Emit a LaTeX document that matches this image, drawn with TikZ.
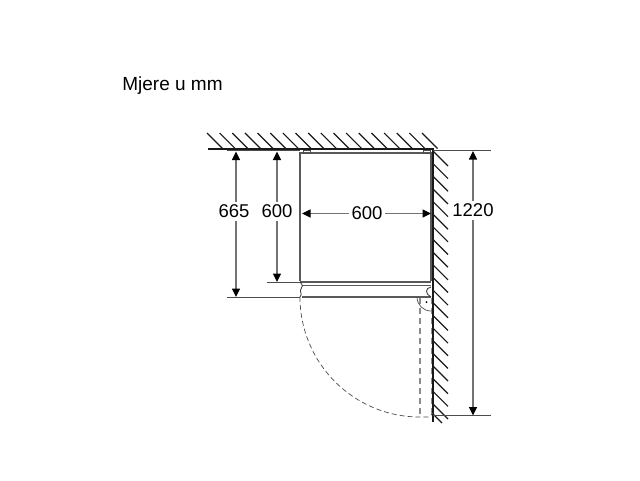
\documentclass[tikz,border=0pt]{standalone}
\usepackage{fontspec}
\setmainfont{Liberation Sans}
\usetikzlibrary{arrows.meta}

\begin{document}
\begin{tikzpicture}[x=1pt, y=-1pt, line width=0.7pt,
    wall/.style={line width=2pt, black!90},
    hatch/.style={line width=1.2pt, black!90},
    dimline/.style={black!55, line width=1.1pt, {Triangle[black,length=8.5pt,width=8pt]}-{Triangle[black,length=8.5pt,width=8pt]}},
    extline/.style={black!70, line width=0.8pt},
    body/.style={black!65, line width=1.5pt},
    swing/.style={black!70, line width=0.7pt, dash pattern=on 5pt off 3pt},
    frame/.style={black!45, line width=1.2pt, dash pattern=on 6pt off 4pt},
    dimtext/.style={fill=white, inner sep=3pt, font=\fontsize{18.5}{19}\selectfont}]
  \useasboundingbox (0,0) rectangle (640,480);
  % Heading
  \node[anchor=west, inner sep=0pt, font=\fontsize{19}{20}\selectfont] (heading) at (122,86) {Mjere u mm};
  % Wall corner
  \coordinate (wallstart) at (208,148.5);
  \coordinate (corner) at (433,148.5);
  \coordinate (wallend) at (433,422);
  \foreach \i in {0,...,17}
    \draw[hatch] (207+12.65*\i,133) -- ++(15.5,15.5);
  \foreach \i in {0,...,20}
    \draw[hatch] (433,151+12.65*\i) -- ++(15,15);
  \draw[hatch] (433,414) -- (442,423);
  \draw[wall] (wallstart) -- (corner) -- (wallend);
  % Cabinet
  \draw[body] (300,281) -- (300,153) -- (431,153) -- (431,281);
  \draw[line width=0.8pt, black!70] (303,153) rectangle (310,150);
  \draw[line width=0.8pt, black!70] (423,153) rectangle (430,150);
  % Door
  \draw[body] (300,282) -- (431,282);
  \draw[body] (302,285.5) -- (431,285.5);
  \draw[body] (302,297) -- (431,297);
  \draw[line width=0.8pt, black!80] (300,282) .. controls (303,285) and (303,287) .. (301,289)
    .. controls (299,291) and (303,294) .. (300,297);
  \draw[line width=0.8pt, black!80] (431,287) .. controls (425,288) and (425,294) .. (431,297);
  % Opened door
  \draw[swing] (300,297) arc[start angle=180, end angle=90, radius=120] -- (429,417) -- (433,413);
  \draw[frame] (420,298) -- (420,417);
  \draw[frame] (431.5,298) -- (431.5,415);
  \draw[line width=0.7pt, black!70] (417,297) arc[start angle=180, end angle=90, radius=14];
  \fill (426.5,302) circle (1pt);
  % Extension lines
  \coordinate (back) at (227,150.5);
  \coordinate (backend) at (300,150.5);
  \coordinate (wallright) at (433,150.5);
  \coordinate (wallfar) at (491,150.5);
  \coordinate (depthin) at (267,282);
  \coordinate (depthinend) at (300,282);
  \coordinate (depthout) at (227,297);
  \coordinate (depthoutend) at (300,297);
  \coordinate (swingin) at (433,415.5);
  \coordinate (swingfar) at (491,415.5);
  \draw[extline] (back) -- (backend);
  \draw[extline] (wallright) -- (wallfar);
  \draw[extline] (depthin) -- (depthinend);
  \draw[extline] (depthout) -- (depthoutend);
  \draw[extline] (swingin) -- (swingfar);
  % Dimensions
  \coordinate (a665) at (236,151.5);
  \coordinate (b665) at (236,297);
  \coordinate (a600) at (277,151.5);
  \coordinate (b600) at (277,282);
  \coordinate (a1220) at (473,151);
  \coordinate (b1220) at (473,415.5);
  \coordinate (aw) at (302,213.5);
  \coordinate (bw) at (431,213.5);
  \draw[dimline] (a665) -- (b665);
  \draw[dimline] (a600) -- (b600);
  \draw[dimline] (a1220) -- (b1220);
  \draw[dimline] (aw) -- (bw);
  \node[dimtext] (t665) at (234,211.5) {665};
  \node[dimtext] (t600) at (277,211.5) {600};
  \node[dimtext] (t1220) at (473,210.5) {1220};
  \node[dimtext] (tw) at (367,213.5) {600};
\end{tikzpicture}
\end{document}
